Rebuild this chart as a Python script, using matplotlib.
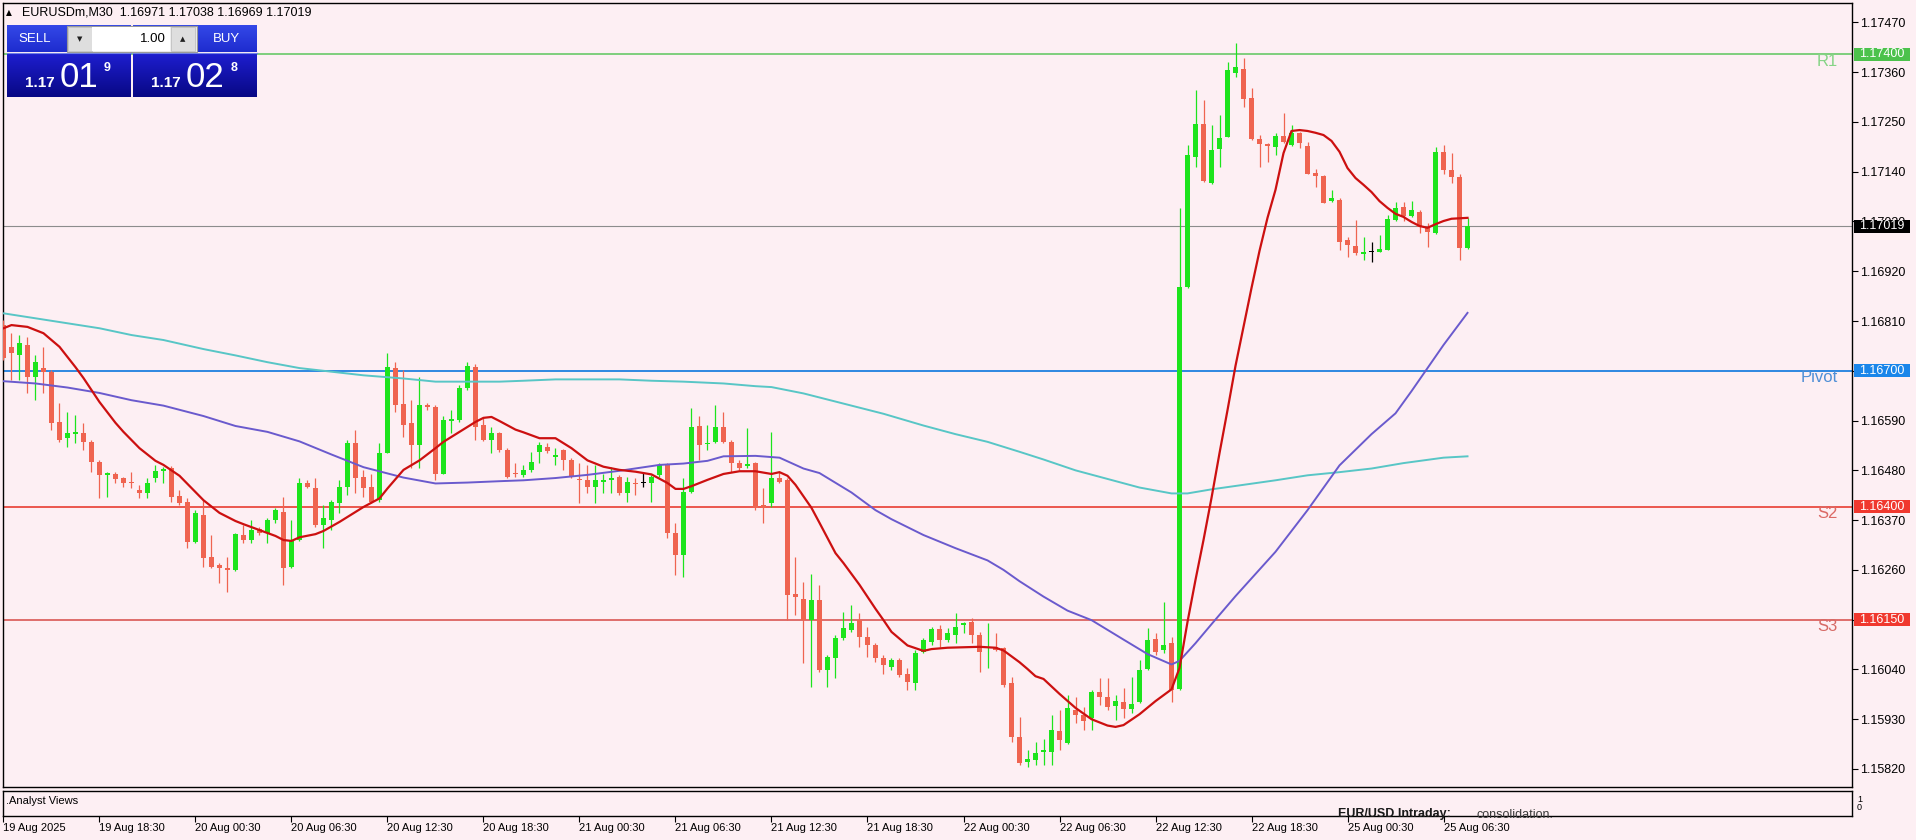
import matplotlib
matplotlib.use('Agg')
import matplotlib.pyplot as plt
import matplotlib.transforms as mtransforms
from matplotlib.patches import Rectangle
import numpy as np

plt.rcParams['font.family'] = ['Liberation Sans', 'DejaVu Sans']

# ---------------- data ----------------
symbol = 'EURUSDm,M30'
header_ohlc = ['1.16971', '1.17038', '1.16969', '1.17019']

opens = [
    1.16801, 1.16753, 1.16735, 1.16757, 1.16687, 1.16706, 1.16698, 1.16587, 1.16551, 1.16561,
    1.16562, 1.16543, 1.16499, 1.16470, 1.16473, 1.16462, 1.16455, 1.16437, 1.16431, 1.16462,
    1.16479, 1.16485, 1.16423, 1.16411, 1.16322, 1.16381, 1.16289, 1.16271, 1.16264, 1.16260,
    1.16337, 1.16325, 1.16350, 1.16341, 1.16370, 1.16389, 1.16267, 1.16326, 1.16451, 1.16440,
    1.16359, 1.16370, 1.16407, 1.16444, 1.16540, 1.16466, 1.16444, 1.16414, 1.16519, 1.16706,
    1.16627, 1.16584, 1.16536, 1.16624, 1.16621, 1.16473, 1.16590, 1.16591, 1.16661, 1.16709,
    1.16580, 1.16547, 1.16562, 1.16525, 1.16473, 1.16470, 1.16481, 1.16521, 1.16532, 1.16510,
    1.16525, 1.16503, 1.16460, 1.16459, 1.16444, 1.16455, 1.16459, 1.16466, 1.16429, 1.16453,
    1.16451, 1.16451, 1.16470, 1.16492, 1.16341, 1.16293, 1.16433, 1.16578, 1.16538, 1.16543,
    1.16575, 1.16543, 1.16496, 1.16490, 1.16496, 1.16403, 1.16407, 1.16462, 1.16459, 1.16207,
    1.16195, 1.16149, 1.16193, 1.16039, 1.16065, 1.16109, 1.16127, 1.16149, 1.16112, 1.16094,
    1.16065, 1.16046, 1.16061, 1.16031, 1.16009, 1.16079, 1.16101, 1.16129, 1.16105, 1.16116,
    1.16138, 1.16145, 1.16116, 1.16087, 1.16090, 1.16087, 1.16009, 1.15891, 1.15836, 1.15840,
    1.15858, 1.15858, 1.15905, 1.15878, 1.15950, 1.15939, 1.15933, 1.15990, 1.15979, 1.15959,
    1.15969, 1.15953, 1.15967, 1.16041, 1.16107, 1.16083, 1.16098, 1.15997, 1.16886, 1.17173,
    1.17245, 1.17116, 1.17190, 1.17217, 1.17359, 1.17367, 1.17302, 1.17212, 1.17201, 1.17194,
    1.17219, 1.17199, 1.17225, 1.17197, 1.17138, 1.17131, 1.17076, 1.17077, 1.16988, 1.16976,
    1.16958, 1.16963, 1.16963, 1.16967, 1.17033, 1.17063, 1.17041, 1.17052, 1.17018, 1.17004,
    1.17184, 1.17144, 1.17129, 1.16971]

highs = [
    1.16812, 1.16783, 1.16779, 1.16775, 1.16735, 1.16753, 1.16702, 1.16628, 1.16610, 1.16602,
    1.16584, 1.16547, 1.16503, 1.16477, 1.16477, 1.16466, 1.16477, 1.16448, 1.16462, 1.16492,
    1.16488, 1.16490, 1.16437, 1.16418, 1.16392, 1.16414, 1.16337, 1.16275, 1.16289, 1.16341,
    1.16359, 1.16370, 1.16355, 1.16374, 1.16396, 1.16422, 1.16370, 1.16462, 1.16459, 1.16462,
    1.16403, 1.16414, 1.16459, 1.16547, 1.16569, 1.16481, 1.16473, 1.16540, 1.16739, 1.16720,
    1.16702, 1.16635, 1.16687, 1.16628, 1.16624, 1.16599, 1.16613, 1.16669, 1.16720, 1.16715,
    1.16595, 1.16576, 1.16565, 1.16529, 1.16496, 1.16492, 1.16521, 1.16543, 1.16540, 1.16529,
    1.16527, 1.16507, 1.16496, 1.16492, 1.16492, 1.16473, 1.16488, 1.16470, 1.16466, 1.16462,
    1.16477, 1.16470, 1.16496, 1.16496, 1.16363, 1.16462, 1.16617, 1.16599, 1.16580, 1.16624,
    1.16610, 1.16547, 1.16503, 1.16573, 1.16499, 1.16440, 1.16565, 1.16477, 1.16462, 1.16289,
    1.16234, 1.16252, 1.16227, 1.16072, 1.16116, 1.16168, 1.16182, 1.16164, 1.16134, 1.16098,
    1.16072, 1.16065, 1.16065, 1.16043, 1.16083, 1.16109, 1.16134, 1.16138, 1.16131, 1.16164,
    1.16145, 1.16153, 1.16123, 1.16142, 1.16120, 1.16090, 1.16024, 1.15936, 1.15862, 1.15880,
    1.15886, 1.15939, 1.15950, 1.15984, 1.15979, 1.15957, 1.15995, 1.16021, 1.16021, 1.15984,
    1.15999, 1.16024, 1.16061, 1.16132, 1.16120, 1.16190, 1.16112, 1.17060, 1.17199, 1.17321,
    1.17298, 1.17243, 1.17265, 1.17383, 1.17424, 1.17391, 1.17324, 1.17221, 1.17203, 1.17225,
    1.17269, 1.17243, 1.17228, 1.17206, 1.17147, 1.17133, 1.17100, 1.17081, 1.16996, 1.17033,
    1.16995, 1.16985, 1.17000, 1.17044, 1.17074, 1.17074, 1.17076, 1.17055, 1.17026, 1.17195,
    1.17199, 1.17181, 1.17136, 1.17038]

lows = [
    1.16724, 1.16680, 1.16680, 1.16650, 1.16635, 1.16650, 1.16569, 1.16543, 1.16532, 1.16540,
    1.16525, 1.16477, 1.16418, 1.16422, 1.16451, 1.16444, 1.16440, 1.16418, 1.16418, 1.16455,
    1.16451, 1.16411, 1.16403, 1.16308, 1.16319, 1.16267, 1.16264, 1.16230, 1.16212, 1.16258,
    1.16319, 1.16319, 1.16337, 1.16319, 1.16363, 1.16227, 1.16264, 1.16324, 1.16440, 1.16355,
    1.16308, 1.16348, 1.16385, 1.16426, 1.16429, 1.16422, 1.16407, 1.16411, 1.16518, 1.16610,
    1.16554, 1.16485, 1.16485, 1.16613, 1.16459, 1.16472, 1.16562, 1.16587, 1.16658, 1.16547,
    1.16545, 1.16518, 1.16521, 1.16462, 1.16466, 1.16466, 1.16477, 1.16496, 1.16518, 1.16492,
    1.16481, 1.16462, 1.16407, 1.16429, 1.16407, 1.16429, 1.16429, 1.16426, 1.16411, 1.16426,
    1.16444, 1.16411, 1.16466, 1.16330, 1.16249, 1.16245, 1.16429, 1.16503, 1.16525, 1.16540,
    1.16540, 1.16477, 1.16481, 1.16485, 1.16392, 1.16363, 1.16400, 1.16451, 1.16149, 1.16160,
    1.16054, 1.16002, 1.16035, 1.16002, 1.16020, 1.16105, 1.16123, 1.16090, 1.16068, 1.16057,
    1.16031, 1.16039, 1.16024, 1.15995, 1.15995, 1.16076, 1.16094, 1.16090, 1.16101, 1.16098,
    1.16120, 1.16098, 1.16035, 1.16043, 1.16081, 1.16002, 1.15880, 1.15829, 1.15825, 1.15829,
    1.15829, 1.15829, 1.15862, 1.15876, 1.15922, 1.15906, 1.15906, 1.15961, 1.15950, 1.15928,
    1.15933, 1.15944, 1.15965, 1.16039, 1.16072, 1.16076, 1.15969, 1.15995, 1.16883, 1.17151,
    1.17118, 1.17113, 1.17151, 1.17216, 1.17350, 1.17284, 1.17210, 1.17150, 1.17162, 1.17177,
    1.17203, 1.17197, 1.17192, 1.17135, 1.17107, 1.17070, 1.17074, 1.16967, 1.16952, 1.16956,
    1.16945, 1.16940, 1.16962, 1.16966, 1.17030, 1.17030, 1.17039, 1.17004, 1.16974, 1.17003,
    1.17136, 1.17114, 1.16945, 1.16969]

closes = [
    1.16728, 1.16739, 1.16761, 1.16687, 1.16720, 1.16698, 1.16584, 1.16547, 1.16562, 1.16564,
    1.16543, 1.16499, 1.16470, 1.16475, 1.16461, 1.16453, 1.16451, 1.16429, 1.16451, 1.16479,
    1.16482, 1.16422, 1.16407, 1.16322, 1.16385, 1.16286, 1.16267, 1.16264, 1.16260, 1.16339,
    1.16326, 1.16348, 1.16341, 1.16370, 1.16392, 1.16264, 1.16326, 1.16451, 1.16444, 1.16359,
    1.16374, 1.16411, 1.16444, 1.16540, 1.16462, 1.16440, 1.16411, 1.16519, 1.16709, 1.16624,
    1.16580, 1.16536, 1.16624, 1.16619, 1.16473, 1.16591, 1.16593, 1.16661, 1.16711, 1.16576,
    1.16547, 1.16562, 1.16525, 1.16466, 1.16471, 1.16481, 1.16499, 1.16536, 1.16523, 1.16514,
    1.16503, 1.16466, 1.16458, 1.16444, 1.16459, 1.16459, 1.16462, 1.16429, 1.16455, 1.16449,
    1.16451, 1.16466, 1.16492, 1.16341, 1.16293, 1.16433, 1.16576, 1.16536, 1.16541, 1.16576,
    1.16543, 1.16496, 1.16485, 1.16493, 1.16396, 1.16396, 1.16462, 1.16455, 1.16205, 1.16199,
    1.16149, 1.16193, 1.16039, 1.16068, 1.16109, 1.16131, 1.16142, 1.16112, 1.16094, 1.16065,
    1.16050, 1.16061, 1.16028, 1.16013, 1.16076, 1.16105, 1.16129, 1.16105, 1.16120, 1.16134,
    1.16142, 1.16116, 1.16079, 1.16090, 1.16083, 1.16006, 1.15891, 1.15833, 1.15841, 1.15855,
    1.15862, 1.15906, 1.15883, 1.15955, 1.15939, 1.15927, 1.15991, 1.15979, 1.15957, 1.15971,
    1.15953, 1.15964, 1.16039, 1.16105, 1.16078, 1.16094, 1.15995, 1.16885, 1.17177, 1.17245,
    1.17120, 1.17188, 1.17214, 1.17365, 1.17371, 1.17300, 1.17212, 1.17201, 1.17197, 1.17219,
    1.17206, 1.17225, 1.17203, 1.17136, 1.17131, 1.17071, 1.17081, 1.16985, 1.16978, 1.16961,
    1.16963, 1.16963, 1.16969, 1.17035, 1.17059, 1.17041, 1.17055, 1.17018, 1.17007, 1.17184,
    1.17144, 1.17129, 1.16971, 1.17019]

# fast moving average (red)
ma_fast_bars = [0, 1, 3, 5, 7, 9, 10, 12, 14, 15, 17, 19, 20, 22, 24, 25, 27, 29, 30, 32,
                34, 35, 36, 37, 39, 40, 42, 44, 45, 47, 48, 50, 52, 54, 55, 57, 59, 60, 61, 62,
                64, 65, 67, 69, 71, 73, 75, 77, 79, 81, 83, 84, 85, 86, 88, 90, 92, 94, 96, 97,
                98, 99, 101, 102, 104, 105, 107, 109, 110, 111, 113, 115, 116, 118, 120, 122, 124, 125, 127, 128,
                129, 130, 132, 134, 136, 138, 139, 140, 142, 144, 146, 147, 148, 149, 150, 151, 152, 153, 154, 155,
                156, 157, 158, 159, 160, 161, 162, 163, 164, 165, 166, 167, 168, 169, 170, 171, 172, 173, 174, 175,
                176, 177, 178, 179, 180, 181, 182, 183]
ma_fast = [1.16794, 1.16801, 1.16797, 1.16783, 1.16753, 1.16708, 1.16684, 1.16631, 1.16585, 1.16565,
           1.16529, 1.16501, 1.16492, 1.16468, 1.16432, 1.16414, 1.16386, 1.16368, 1.16361, 1.16348,
           1.16335, 1.16326, 1.16324, 1.16332, 1.16339, 1.16346, 1.16366, 1.16388, 1.16399, 1.16418,
           1.16440, 1.16481, 1.16502, 1.16529, 1.16543, 1.16565, 1.16587, 1.16596, 1.16598, 1.16589,
           1.16570, 1.16564, 1.16551, 1.16551, 1.16529, 1.16502, 1.16488, 1.16481, 1.16477, 1.16471,
           1.16452, 1.16439, 1.16439, 1.16445, 1.16459, 1.16472, 1.16478, 1.16478, 1.16472, 1.16476,
           1.16468, 1.16448, 1.16397, 1.16364, 1.16297, 1.16275, 1.16227, 1.16174, 1.16149, 1.16123,
           1.16093, 1.16081, 1.16085, 1.16088, 1.16089, 1.16090, 1.16088, 1.16082, 1.16056, 1.16041,
           1.16025, 1.16019, 1.15986, 1.15955, 1.15930, 1.15916, 1.15913, 1.15917, 1.15941, 1.15970,
           1.15996, 1.16043, 1.16145, 1.16238, 1.16326, 1.16419, 1.16518, 1.16613, 1.16711, 1.16797,
           1.16883, 1.16965, 1.17038, 1.17100, 1.17181, 1.17230, 1.17232, 1.17230, 1.17226, 1.17221,
           1.17208, 1.17184, 1.17148, 1.17126, 1.17111, 1.17095, 1.17075, 1.17060, 1.17047, 1.17040,
           1.17029, 1.17020, 1.17016, 1.17024, 1.17031, 1.17036, 1.17037, 1.17038]

# middle moving average (slate blue)
ma_mid_bars = [0, 4, 8, 12, 16, 20, 25, 29, 33, 37, 41, 45, 50, 54, 58, 62, 65, 69, 73, 77,
               82, 85, 88, 90, 94, 97, 100, 102, 106, 109, 111, 115, 119, 123, 125, 127, 130, 133, 136, 140,
               143, 146, 147, 149, 151, 154, 159, 163, 167, 171, 174, 176, 178, 180, 183]
ma_mid = [1.16677, 1.16672, 1.16663, 1.16651, 1.16635, 1.16623, 1.16600, 1.16578, 1.16565, 1.16544,
          1.16515, 1.16487, 1.16464, 1.16451, 1.16453, 1.16456, 1.16458, 1.16463, 1.16470, 1.16479,
          1.16492, 1.16495, 1.16501, 1.16511, 1.16512, 1.16508, 1.16484, 1.16474, 1.16431, 1.16392,
          1.16372, 1.16337, 1.16308, 1.16281, 1.16260, 1.16235, 1.16201, 1.16170, 1.16149, 1.16106,
          1.16074, 1.16051, 1.16059, 1.16098, 1.16140, 1.16202, 1.16300, 1.16392, 1.16491, 1.16560,
          1.16606, 1.16655, 1.16706, 1.16757, 1.16828]

# slow moving average (cyan)
ma_slow_bars = [0, 4, 8, 12, 16, 20, 25, 29, 33, 37, 41, 45, 50, 54, 58, 62, 65, 69, 77, 81,
                85, 90, 94, 96, 100, 106, 110, 115, 119, 123, 127, 130, 134, 138, 142, 146, 148, 151, 155, 159,
                163, 167, 171, 175, 180, 183]
ma_slow = [1.16827, 1.16816, 1.16805, 1.16794, 1.16779, 1.16768, 1.16748, 1.16734, 1.16719, 1.16706,
           1.16698, 1.16690, 1.16683, 1.16676, 1.16676, 1.16676, 1.16678, 1.16681, 1.16681, 1.16678,
           1.16676, 1.16672, 1.16666, 1.16664, 1.16650, 1.16623, 1.16605, 1.16579, 1.16560, 1.16543,
           1.16521, 1.16504, 1.16480, 1.16461, 1.16442, 1.16429, 1.16429, 1.16438, 1.16448, 1.16458,
           1.16469, 1.16476, 1.16484, 1.16496, 1.16508, 1.16511]

level_names = ['R1', 'Pivot', 'S2', 'S3']
level_values = [1.17400, 1.16700, 1.16400, 1.16150]
last_price = 1.17019

price_ticks = [1.15820, 1.15930, 1.16040, 1.16150, 1.16260, 1.16370, 1.16480, 1.16590,
               1.16700, 1.16810, 1.16920, 1.17030, 1.17140, 1.17250, 1.17360, 1.17470]

time_label_bars = [0, 12, 24, 36, 48, 60, 72, 84, 96, 108, 120, 132, 144, 156, 168, 180]
time_labels = ['19 Aug 2025', '19 Aug 18:30', '20 Aug 00:30', '20 Aug 06:30', '20 Aug 12:30',
               '20 Aug 18:30', '21 Aug 00:30', '21 Aug 06:30', '21 Aug 12:30', '21 Aug 18:30',
               '22 Aug 00:30', '22 Aug 06:30', '22 Aug 12:30', '22 Aug 18:30', '25 Aug 00:30',
               '25 Aug 06:30']

sell_parts = ['1.17', '01', '9']
buy_parts = ['1.17', '02', '8']
lot_size = '1.00'
analyst_title = 'EUR/USD Intraday:'
analyst_text = 'consolidation.'

# ---------------- style ----------------
W, H = 1916, 840
BG = '#fdeff3'
BULL = '#1de41d'
BEAR = '#ef6450'
level_colors = ['#5cc65c', '#1e80e0', '#ea4a40', '#d64a46']
label_colors = ['#86d486', '#4f8fd6', '#dc6a66', '#d66a66']
tag_colors = ['#4cc24c', '#1a86ea', '#f0382e', '#f0382e']

fig = plt.figure(figsize=(W / 100, H / 100), dpi=100, facecolor=BG)


def frame(l, t, r, b):
    return [l / W, 1 - b / H, (r - l) / W, (b - t) / H]


ax = fig.add_axes(frame(3, 3, 1852, 787), facecolor=BG)
x = np.arange(len(opens))
o = np.array(opens)
h = np.array(highs)
lo = np.array(lows)
c = np.array(closes)
cols = np.where(c == o, 'black', np.where(c > o, BULL, BEAR))

ax.vlines(x, lo, h, colors=cols, linewidth=0.9, zorder=3)
ax.bar(x, np.maximum(np.abs(c - o), 0.000025), bottom=np.minimum(o, c), width=0.62,
       color=cols, linewidth=0, zorder=3)

ax.plot(ma_slow_bars, ma_slow, color='#58c6c6', lw=1.4, zorder=4)
ax.plot(ma_mid_bars, ma_mid, color='#6a5acd', lw=1.4, zorder=4)
ax.plot(ma_fast_bars, ma_fast, color='#cc1010', lw=1.6, zorder=5)

ax.axhline(last_price, color='#8c8c8c', lw=0.8, zorder=2)
for name, val, lc, tc in zip(level_names, level_values, level_colors, label_colors):
    ax.axhline(val, color=lc, lw=1.3 if name in ('Pivot', 'S2') else 1.1, zorder=2)
    ax.annotate(name, xy=(1.0, val), xycoords=('axes fraction', 'data'),
                xytext=(-14, -7), textcoords='offset pixels', ha='right', va='center',
                fontsize=12, color=tc, zorder=6)

ymin, ymax = 1.157802, 1.175128
ax.set_xlim(-0.06, 231.06)
ax.set_ylim(ymin, ymax)
ax.yaxis.tick_right()
ax.set_yticks(price_ticks)
ax.set_yticklabels([f'{v:.5f}' for v in price_ticks])
ax.tick_params(axis='y', direction='out', length=4, width=0.8, pad=2, labelsize=9, colors='black')
ax.tick_params(axis='x', bottom=False, labelbottom=False)
for s in ax.spines.values():
    s.set_linewidth(1.0)
    s.set_color('black')

# price tags on the right scale
px_price = (ymax - ymin) / 784.0
blend = mtransforms.blended_transform_factory(ax.transAxes, ax.transData)
axw = 1849.0
for val, tcol in [(level_values[0], tag_colors[0]), (last_price, 'black'),
                  (level_values[1], tag_colors[1]), (level_values[2], tag_colors[2]),
                  (level_values[3], tag_colors[3])]:
    ax.add_patch(Rectangle((1.0 + 2 / axw, val - 6.5 * px_price), 56 / axw, 13 * px_price,
                           transform=blend, facecolor=tcol, edgecolor='none',
                           clip_on=False, zorder=20))
    ax.text(1.0 + 30 / axw, val, f'{val:.5f}', transform=blend, ha='center', va='center',
            color='white', fontsize=9, zorder=21, clip_on=False)

# indicator sub-window
ax2 = fig.add_axes(frame(3, 790.7, 1852, 816), facecolor=BG)
ax2.set_xlim(ax.get_xlim())
ax2.set_ylim(0, 1)
ax2.set_yticks([])
ax2.set_xticks(time_label_bars)
ax2.set_xticklabels(time_labels, fontsize=8)
for t in ax2.get_xticklabels():
    t.set_horizontalalignment('left')
ax2.tick_params(axis='x', direction='out', length=4, width=0.8, pad=1, colors='black')
for s in ax2.spines.values():
    s.set_linewidth(1.0)
    s.set_color('black')

# ---------------- overlay (pixel coordinates) ----------------
ov = fig.add_axes([0, 0, 1, 1], zorder=10)
ov.patch.set_alpha(0)
ov.axis('off')


def grad(l, t, r, b, c1, c2):
    g = np.linspace(0, 1, 64)[:, None, None]
    img = (np.array(c1)[None, None, :] * (1 - g) + np.array(c2)[None, None, :] * g) / 255.0
    ov.imshow(img, extent=(l, r, b, t), aspect='auto', zorder=1, interpolation='bilinear')


# sell / buy buttons
for (l, r) in [(6.7, 130.7), (133.3, 256.7)]:
    grad(l, 25, r, 52, (52, 72, 232), (30, 44, 206))
    grad(l, 53, r, 97, (30, 30, 208), (8, 8, 132))
    ov.plot([l, r], [52.5, 52.5], color='#6f7fe8', lw=0.8, zorder=2)

ov.text(35, 39, 'SELL', color='white', fontsize=9.5, ha='center', va='center', zorder=5)
ov.text(226, 39, 'BUY', color='white', fontsize=9.5, ha='center', va='center', zorder=5)

# lot spinner
ov.add_patch(Rectangle((66.7, 25.7), 130, 26, facecolor='#eeeeee', edgecolor='#9a9a9a', lw=0.8, zorder=3))
ov.add_patch(Rectangle((68, 27), 24, 23.5, facecolor='#dedede', edgecolor='#c0c0c0', lw=0.6, zorder=4))
ov.add_patch(Rectangle((92, 27), 78, 23.5, facecolor='white', edgecolor='none', zorder=4))
ov.add_patch(Rectangle((171, 27), 24.5, 23.5, facecolor='#dedede', edgecolor='#c0c0c0', lw=0.6, zorder=4))
ov.text(80, 39, '▼', fontsize=5, ha='center', va='center', color='#202020', zorder=5,
        family=['DejaVu Sans'])
ov.text(183, 39, '▲', fontsize=5, ha='center', va='center', color='#202020', zorder=5,
        family=['DejaVu Sans'])
ov.text(166, 39, lot_size, fontsize=9.5, ha='right', va='center', color='black', zorder=5)

# prices on the buttons
for x0, parts in [(25, sell_parts), (151.5, buy_parts)]:
    ov.text(x0, 87, parts[0], fontsize=11, fontweight='bold', color='white', ha='left',
            va='baseline', zorder=5)
    ov.text(x0 + 34.5, 87, parts[1], fontsize=25, color='white', ha='left', va='baseline', zorder=5)
    ov.text(x0 + 79, 71, parts[2], fontsize=9, fontweight='bold', color='white', ha='left',
            va='baseline', zorder=5)

# header
ov.text(9, 12.7, '▲', fontsize=5.5, ha='center', va='center', color='black', family=['DejaVu Sans'])
ov.text(22, 12.7, symbol + '  ' + ' '.join(header_ohlc), fontsize=9, ha='left', va='center',
        color='black')

# sub-window texts
ov.text(6, 801, '.Analyst Views', fontsize=8, ha='left', va='center', color='black')
ov.text(1857, 799.5, '1', fontsize=6.5, ha='left', va='center', color='black')
ov.text(1857, 808, '0', fontsize=6.5, ha='left', va='center', color='black')
t1 = ov.text(1338, 817.5, analyst_title, fontsize=9, fontweight='bold', ha='left', va='baseline',
             color='#1a1a1a')
t2 = ov.text(1477, 817.5, analyst_text, fontsize=9, ha='left', va='baseline', color='#3a3a3a')
clip_rect = Rectangle((3, 790.7), 1849, 25.3, transform=ov.transData)
t1.set_clip_path(clip_rect)
t2.set_clip_path(clip_rect)

ov.set_xlim(0, W)
ov.set_ylim(H, 0)

fig.savefig('out.png', dpi=100, facecolor=BG)
